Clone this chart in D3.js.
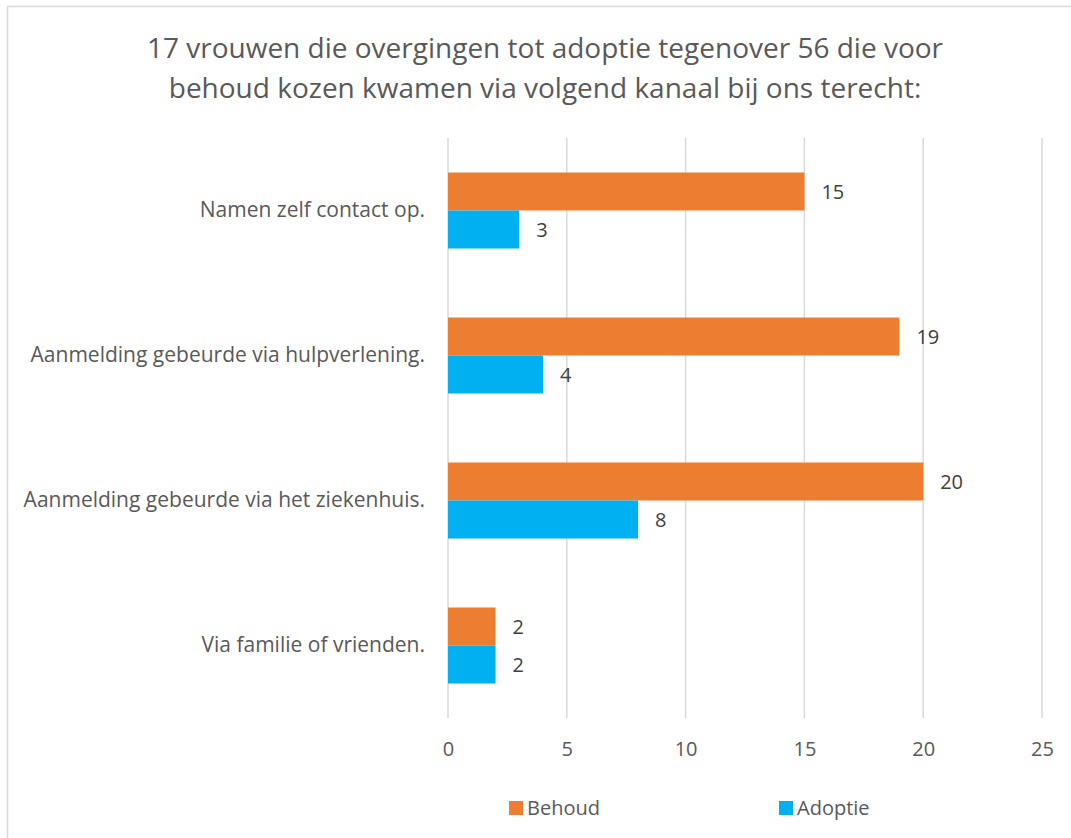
<!DOCTYPE html>
<html>
<head>
<meta charset="utf-8">
<script src="https://cdn.jsdelivr.net/npm/d3@7"></script>
<style>
  body { margin: 0; background: #fff; }
  text { font-family: "Open Sans", sans-serif; }
</style>
</head>
<body>
<div id="chart"></div>
<script>
// data
const titleLines = ["17 vrouwen die overgingen tot adoptie tegenover 56 die voor",
                    "behoud kozen kwamen via volgend kanaal bij ons terecht:"];
const categories = ["Namen zelf contact op.",
                    "Aanmelding gebeurde via hulpverlening.",
                    "Aanmelding gebeurde via het ziekenhuis.",
                    "Via familie of vrienden."];
const seriesNames = ["Behoud", "Adoptie"];
const behoud = [15, 19, 20, 2];
const adoptie = [3, 4, 8, 2];
const xTicks = [0, 5, 10, 15, 20, 25];
const colors = ["#ED7D31", "#00B0F0"];

let width = 1071;
let height = 838;

let svg = d3.select("#chart")
    .append("svg")
    .attr("width", width)
    .attr("height", height);

// chart border
svg.append("rect")
    .attr("x", 7.5).attr("y", 6.5)
    .attr("width", width).attr("height", height)
    .attr("fill", "none")
    .attr("stroke", "#d9d9d9")
    .attr("stroke-width", 1.5);

svg.append("g").selectAll("text")
    .data(titleLines)
    .enter()
    .append("text")
    .attr("x", 545)
    .attr("y", (d, i) => 58 + i * 40)
    .attr("text-anchor", "middle")
    .attr("font-size", 28)
    .attr("fill", "#595959")
    .text(d => d);

let x = d3.scaleLinear().domain([0, 25]).range([448, 1042]);
let y = d3.scaleBand().domain(categories).range([138, 718]);
let inner = d3.scaleBand().domain(seriesNames).range([0, 76]);

// gridlines
svg.append("g")
    .selectAll("line")
    .data(xTicks)
    .enter()
    .append("line")
    .attr("x1", d => x(d)).attr("x2", d => x(d))
    .attr("y1", 138).attr("y2", 718)
    .attr("stroke", "#d9d9d9")
    .attr("stroke-width", 1.5);

// x axis labels
let xAxis = svg.append("g")
    .attr("transform", "translate(0,718)")
    .call(d3.axisBottom(x).tickValues(xTicks).tickSize(0).tickPadding(24));
xAxis.select(".domain").remove();
xAxis.selectAll("text")
    .attr("font-family", "Open Sans")
    .attr("font-size", 20)
    .attr("fill", "#595959");

// category labels
let yAxis = svg.append("g")
    .attr("transform", "translate(448,0)")
    .call(d3.axisLeft(y).tickSize(0).tickPadding(23));
yAxis.select(".domain").remove();
yAxis.selectAll("text")
    .attr("font-family", "Open Sans")
    .attr("font-size", 21)
    .attr("fill", "#595959");

let rows = [];
categories.forEach((c, i) => {
    rows.push({ cat: c, s: "Behoud", v: behoud[i], color: colors[0] });
    rows.push({ cat: c, s: "Adoptie", v: adoptie[i], color: colors[1] });
});

let yTop = d => y(d.cat) + (y.bandwidth() - 76) / 2 + inner(d.s);

svg.append("g")
    .selectAll("rect")
    .data(rows)
    .enter()
    .append("rect")
    .attr("x", x(0))
    .attr("y", yTop)
    .attr("width", d => x(d.v) - x(0))
    .attr("height", inner.bandwidth())
    .attr("fill", d => d.color);

svg.append("g")
    .selectAll("text")
    .data(rows)
    .enter()
    .append("text")
    .attr("x", d => x(d.v) + 17)
    .attr("y", d => yTop(d) + inner.bandwidth() / 2)
    .attr("dy", "0.35em")
    .attr("font-size", 20)
    .attr("fill", "#404040")
    .text(d => d.v);

// legend
let legendX = [509, 779];
let legend = svg.append("g")
    .selectAll("g")
    .data(seriesNames)
    .enter()
    .append("g")
    .attr("transform", (d, i) => "translate(" + legendX[i] + ",808)");
legend.append("rect")
    .attr("x", 0).attr("y", -7)
    .attr("width", 14).attr("height", 14)
    .attr("fill", (d, i) => colors[i]);
legend.append("text")
    .attr("x", 18)
    .attr("dy", "0.35em")
    .attr("font-size", 20)
    .attr("fill", "#595959")
    .text(d => d);
</script>
</body>
</html>
